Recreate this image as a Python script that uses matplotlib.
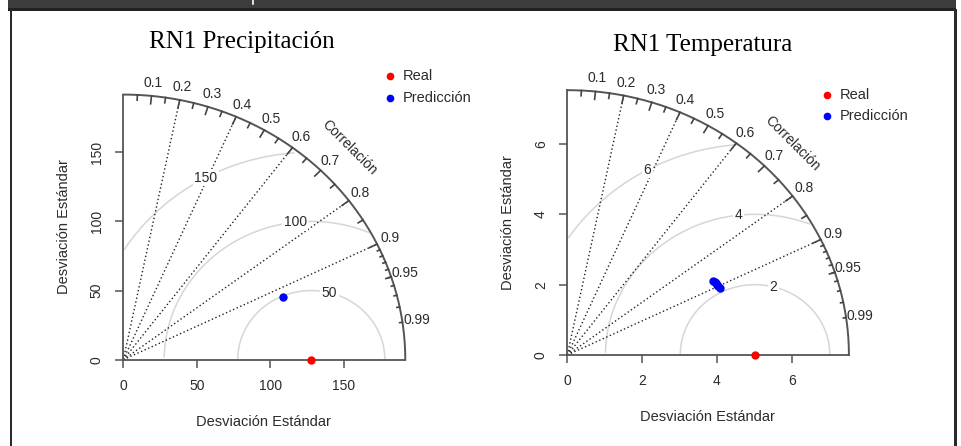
import numpy as np
import matplotlib.pyplot as plt
from matplotlib.lines import Line2D
from matplotlib.patches import Rectangle

# data
titles = ["RN1 Precipitación", "RN1 Temperatura"]
real_sd = [127.8, 5.02]
pred_sd = [[117.6], [4.43, 4.45, 4.46, 4.48, 4.49, 4.51]]
pred_corr = [[0.922], [0.880, 0.885, 0.890, 0.895, 0.900, 0.905]]
sd_ticks = [[0, 50, 100, 150], [0, 2, 4, 6]]
gammas = [[50, 100, 150], [2, 4, 6]]
corr_lines = [0.2, 0.4, 0.6, 0.8, 0.9]
corr_labels = [0.1, 0.2, 0.3, 0.4, 0.5, 0.6, 0.7, 0.8, 0.9, 0.95, 0.99]
legend_labels = ["Real", "Predicción"]

W, H = 961, 446
SANS = "Liberation Sans"
SERIF = "Liberation Serif"
AXC = "#555555"
TXC = "#2b2b2b"

# pixel layout of each panel: origin, px per unit (x, y), axes rect
layout = [
    dict(ox=123.3, oy=359.7, sx=1.471, sy=1.383, rect=(30, 20, 480, 440),
         title=(242, 42), xlab=(263, 422), ylab=(64, 227), leg=(390, 76)),
    dict(ox=567.3, oy=355.0, sx=37.4, sy=35.17, rect=(485, 20, 950, 440),
         title=(703, 45), xlab=(707, 417), ylab=(508, 223), leg=(827, 95)),
]

fig = plt.figure(figsize=(W / 100, H / 100), dpi=100)
fig.patch.set_facecolor("white")

# dark frame of the screenshot
fig.add_artist(Rectangle((8 / W, (H - 9) / H), (956 - 8) / W, 9 / H,
                         transform=fig.transFigure, color="#3c3c3c", lw=0))
fig.add_artist(Rectangle((8 / W, (H - 10.5) / H), (956 - 8) / W, 2 / H,
                         transform=fig.transFigure, color="#222222", lw=0))
fig.add_artist(Rectangle((10 / W, 0), 2.2 / W, (H - 9) / H,
                         transform=fig.transFigure, color="#2a2a2a", lw=0))
fig.add_artist(Rectangle((954 / W, 0), 3 / W, (H - 9) / H,
                         transform=fig.transFigure, color="#2a2a2a", lw=0))
fig.add_artist(Line2D([253 / W, 253 / W], [(H - 4) / H, 1], transform=fig.transFigure,
                      color="white", lw=1.2))


def px(x, y):
    return x / W, 1 - y / H


for i in range(2):
    L = layout[i]
    x0, y0, x1, y1 = L["rect"]
    ax = fig.add_axes([x0 / W, 1 - y1 / H, (x1 - x0) / W, (y1 - y0) / H])
    ax.set_xlim((x0 - L["ox"]) / L["sx"], (x1 - L["ox"]) / L["sx"])
    ax.set_ylim((L["oy"] - y1) / L["sy"], (L["oy"] - y0) / L["sy"])
    ax.set_facecolor("none")

    sdr = real_sd[i]
    maxsd = 1.5 * sdr

    # axes as bounded spines
    for s in ["top", "right"]:
        ax.spines[s].set_visible(False)
    ax.spines["bottom"].set_position(("data", 0))
    ax.spines["left"].set_position(("data", 0))
    ax.spines["bottom"].set_bounds(0, maxsd)
    ax.spines["left"].set_bounds(0, maxsd)
    for s in ["bottom", "left"]:
        ax.spines[s].set_color(AXC)
        ax.spines[s].set_linewidth(1.3)
    ax.set_xticks(sd_ticks[i])
    ax.set_yticks(sd_ticks[i])
    ax.tick_params(direction="out", length=5.5, width=1.1, color=AXC,
                   labelcolor=TXC, labelsize=10, pad=8.5)
    for lab in ax.get_xticklabels() + ax.get_yticklabels():
        lab.set_fontfamily(SANS)
    for lab in ax.get_yticklabels():
        lab.set_rotation(90)
        lab.set_va("center")

    # outer arc
    th = np.linspace(0, np.pi / 2, 200)
    ax.plot(np.cos(th) * maxsd, np.sin(th) * maxsd, color=AXC, lw=1.4, clip_on=False)

    # centred RMS contours
    t = np.arange(0, np.pi, 0.03)
    labelpos = np.linspace(45, 70, len(gammas[i])).astype(int)
    for g, lp in zip(gammas[i], labelpos):
        xc = np.cos(t) * g + sdr
        yc = np.sin(t) * g
        neg = np.where(xc < 0)[0]
        end = neg.min() if len(neg) else len(t)
        out = np.where(xc ** 2 + yc ** 2 > maxsd ** 2)[0]
        start = out.max() + 1 if len(out) else 0
        ax.plot(xc[start:end], yc[start:end], color="#d6d6d6", lw=1.1, zorder=1)
        ax.text(xc[lp - 1], yc[lp - 1], str(g), ha="center", va="center",
                fontsize=10, family=SANS, color=TXC, zorder=3,
                bbox=dict(facecolor="white", edgecolor="none", pad=1.0))

    # correlation lines
    for c in corr_lines:
        ax.plot([0, maxsd * c], [0, maxsd * np.sqrt(1 - c ** 2)], color="#222222",
                lw=1.0, linestyle=(0, (1, 1.8)), zorder=2)

    # correlation ticks and labels
    big = np.arccos(np.arange(0.1, 0.95, 0.1))
    med = np.arccos(np.arange(0.05, 1.0, 0.1))
    sml = np.arccos(np.arange(0.91, 0.995, 0.01))
    for angs, f in [(big, 0.97), (med, 0.98), (sml, 0.99)]:
        for a in angs:
            ax.plot([np.cos(a) * maxsd, np.cos(a) * f * maxsd],
                    [np.sin(a) * maxsd, np.sin(a) * f * maxsd], color="#444444",
                    lw=1.2, clip_on=False)
    for c in corr_labels:
        a = np.arccos(c)
        ax.text(np.cos(a) * 1.05 * maxsd, np.sin(a) * 1.05 * maxsd, f"{c:g}",
                ha="center", va="center", fontsize=10, family=SANS, color=TXC)
    ax.text(0.8 * maxsd, 0.8 * maxsd, "Correlación", rotation=-45, ha="center",
            va="center", fontsize=10, family=SANS, color=TXC, rotation_mode="anchor")

    # points
    ax.plot([sdr], [0], "o", color="red", ms=5, clip_on=False, zorder=5)
    ps = np.array(pred_sd[i])
    pc = np.array(pred_corr[i])
    ax.plot(ps * pc, ps * np.sqrt(1 - pc ** 2), "o", color="blue", ms=5, zorder=5)

    # titles and labels
    fig.text(*px(*L["title"]), titles[i], ha="center", va="center", fontsize=18,
             family=SERIF, color="black")
    fig.text(*px(*L["xlab"]), "Desviación Estándar", ha="center", va="center",
             fontsize=10.5, family=SANS, color=TXC)
    fig.text(*px(*L["ylab"]), "Desviación Estándar", ha="center", va="center",
             rotation=90, fontsize=10.5, family=SANS, color=TXC)

    # legend
    lx, ly = L["leg"]
    for k, (lab, col) in enumerate(zip(legend_labels, ["red", "blue"])):
        fig.add_artist(Line2D([lx / W], [1 - (ly + 21.5 * k) / H], marker="o",
                              color=col, ms=4.5, transform=fig.transFigure))
        fig.text(*px(lx + 13, ly + 21.5 * k), lab, ha="left", va="center",
                 fontsize=10.5, family=SANS, color=TXC)

fig.savefig("out.png", dpi=100)
